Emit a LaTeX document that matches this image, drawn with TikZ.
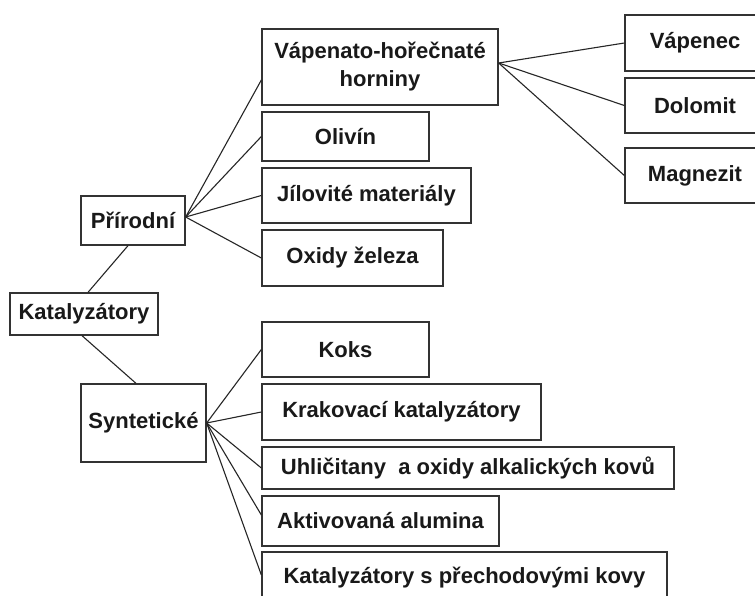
\documentclass[tikz,border=0pt]{standalone}
\usepackage{fontspec}
\setmainfont{Liberation Sans}
\usetikzlibrary{calc}
\begin{document}
\begin{tikzpicture}[x=1pt,y=-1pt,
  box/.style={draw=black!80, line width=1.3pt, inner sep=0pt, align=center,
    font=\fontsize{22}{28}\selectfont\bfseries, text=black!90},
  conn/.style={draw=black!85, line width=1.1pt}]
\clip (0,0) rectangle (755,595);
\fill[white] (0,0) rectangle (755,595);
% root and level 1
\node[box, minimum width=148pt, minimum height=42pt] (kat) at (84,314) {Katalyzátory};
\node[box, minimum width=104pt, minimum height=49pt] (pri) at (133,220.5) {Přírodní};
\node[box, minimum width=125pt, minimum height=78pt] (syn) at (143.5,423) {Syntetické};
% natural
\node[box, minimum width=236pt, minimum height=76pt] (vap) at (380,67) {Vápenato-hořečnaté\\horniny};
\node[box, minimum width=167pt, minimum height=49pt] (oli) at (345.5,136.5) {Olivín};
\node[box, minimum width=209pt, minimum height=55pt] (jil) at (366.5,195.5) {Jílovité materiály};
\node[box, minimum width=181pt, minimum height=56pt] (oxi) at (352.5,258) {Oxidy železa};
% rocks
\node[box, minimum width=140pt, minimum height=56pt] (vpc) at (695,43) {Vápenec};
\node[box, minimum width=140pt, minimum height=55pt] (dol) at (695,105.5) {Dolomit};
\node[box, minimum width=140pt, minimum height=55pt] (mag) at (695,175.5) {Magnezit};
% synthetic
\node[box, minimum width=167pt, minimum height=55pt] (kok) at (345.5,349.5) {Koks};
\node[box, minimum width=279pt, minimum height=56pt] (kra) at (401.5,412) {Krakovací katalyzátory};
\node[box, minimum width=412pt, minimum height=42pt] (uhl) at (468,468) {Uhličitany\ \ a oxidy alkalických kovů};
\node[box, minimum width=237pt, minimum height=50pt] (akt) at (380.5,521) {Aktivovaná alumina};
\node[box, minimum width=405pt, minimum height=52pt] (kpk) at (464.5,578) {Katalyzátory s přechodovými kovy};
% connectors
\draw[conn] ($(pri.south)+(-5,0)$) -- ($(kat.north)+(4,0)$);
\draw[conn] ($(kat.south)+(-2,0)$) -- ($(syn.north)+(-7.5,0)$);
\coordinate (pf) at ($(pri.east)+(0,-3.5)$);
\draw[conn] (pf) -- ($(vap.west)+(0,13)$);
\draw[conn] (pf) -- (oli.west);
\draw[conn] (pf) -- (jil.west);
\draw[conn] (pf) -- (oxi.west);
\coordinate (vf) at ($(vap.east)+(0,-4)$);
\draw[conn] (vf) -- (vpc.west);
\draw[conn] (vf) -- (dol.west);
\draw[conn] (vf) -- (mag.west);
\draw[conn] (syn.east) -- (kok.west);
\draw[conn] (syn.east) -- (kra.west);
\draw[conn] (syn.east) -- (uhl.west);
\draw[conn] (syn.east) -- ($(akt.west)+(0,-6)$);
\draw[conn] (syn.east) -- ($(kpk.west)+(0,-3)$);
\end{tikzpicture}
\end{document}
